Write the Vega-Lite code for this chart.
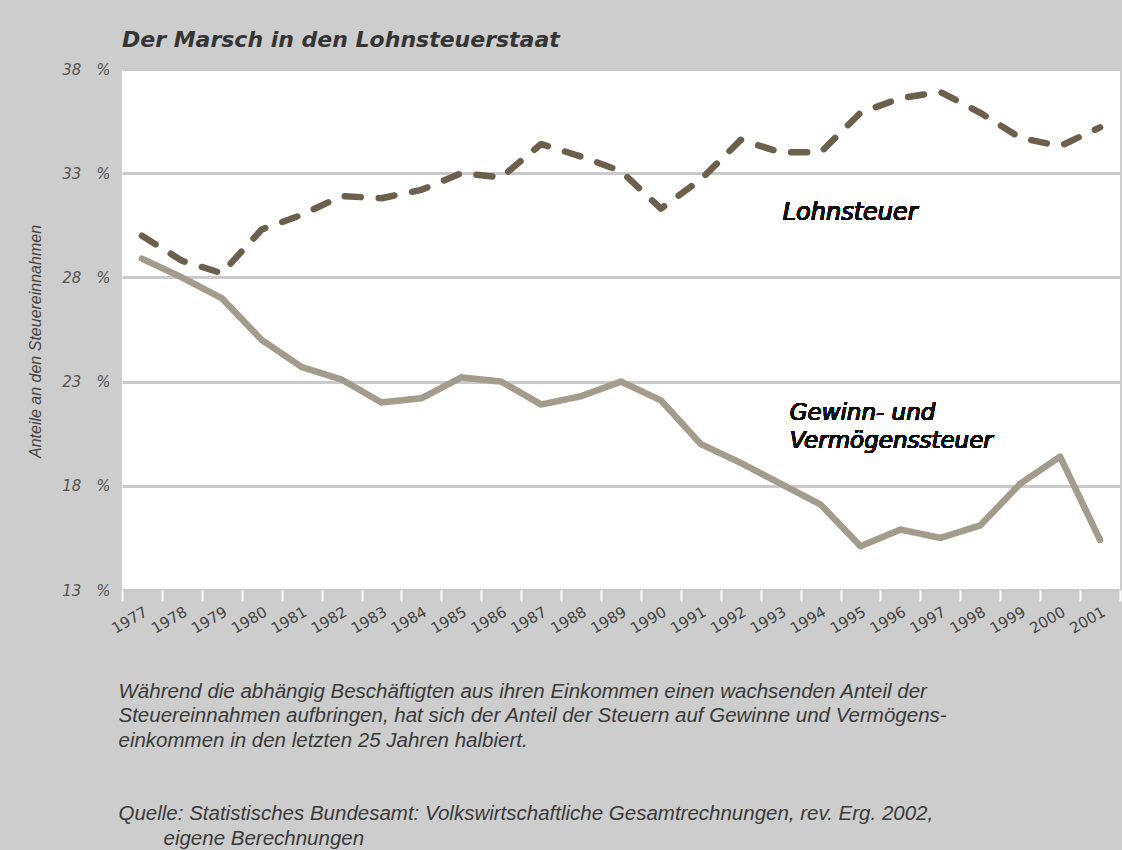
{
  "$schema": "https://vega.github.io/schema/vega-lite/v6.json",
  "autosize": {"type": "none"},
  "padding": {"left": 122, "top": 69, "right": 2, "bottom": 260},
  "width": 998,
  "height": 521,
  "background": "#cdcdcd",
  "title": {
    "text": "Der Marsch in den Lohnsteuerstaat",
    "anchor": "start",
    "frame": "group",
    "font": "DejaVu Sans",
    "fontSize": 22,
    "fontWeight": "bold",
    "fontStyle": "italic",
    "color": "#353535",
    "offset": 10
  },
  "config": {
    "view": {"fill": "white", "stroke": null}
  },
  "data": {
    "values": [
      {"year": "1977", "series": "Lohnsteuer", "value": 30.0},
      {"year": "1978", "series": "Lohnsteuer", "value": 28.8},
      {"year": "1979", "series": "Lohnsteuer", "value": 28.2},
      {"year": "1980", "series": "Lohnsteuer", "value": 30.3},
      {"year": "1981", "series": "Lohnsteuer", "value": 31.0},
      {"year": "1982", "series": "Lohnsteuer", "value": 31.9},
      {"year": "1983", "series": "Lohnsteuer", "value": 31.8},
      {"year": "1984", "series": "Lohnsteuer", "value": 32.2},
      {"year": "1985", "series": "Lohnsteuer", "value": 33.0},
      {"year": "1986", "series": "Lohnsteuer", "value": 32.8},
      {"year": "1987", "series": "Lohnsteuer", "value": 34.4},
      {"year": "1988", "series": "Lohnsteuer", "value": 33.8},
      {"year": "1989", "series": "Lohnsteuer", "value": 33.1},
      {"year": "1990", "series": "Lohnsteuer", "value": 31.3},
      {"year": "1991", "series": "Lohnsteuer", "value": 32.7},
      {"year": "1992", "series": "Lohnsteuer", "value": 34.6},
      {"year": "1993", "series": "Lohnsteuer", "value": 34.0},
      {"year": "1994", "series": "Lohnsteuer", "value": 34.0},
      {"year": "1995", "series": "Lohnsteuer", "value": 35.9},
      {"year": "1996", "series": "Lohnsteuer", "value": 36.6},
      {"year": "1997", "series": "Lohnsteuer", "value": 36.9},
      {"year": "1998", "series": "Lohnsteuer", "value": 35.9},
      {"year": "1999", "series": "Lohnsteuer", "value": 34.7},
      {"year": "2000", "series": "Lohnsteuer", "value": 34.3},
      {"year": "2001", "series": "Lohnsteuer", "value": 35.2},
      {"year": "1977", "series": "Gewinn", "value": 28.9},
      {"year": "1978", "series": "Gewinn", "value": 28.0},
      {"year": "1979", "series": "Gewinn", "value": 27.0},
      {"year": "1980", "series": "Gewinn", "value": 25.0},
      {"year": "1981", "series": "Gewinn", "value": 23.7},
      {"year": "1982", "series": "Gewinn", "value": 23.1},
      {"year": "1983", "series": "Gewinn", "value": 22.0},
      {"year": "1984", "series": "Gewinn", "value": 22.2},
      {"year": "1985", "series": "Gewinn", "value": 23.2},
      {"year": "1986", "series": "Gewinn", "value": 23.0},
      {"year": "1987", "series": "Gewinn", "value": 21.9},
      {"year": "1988", "series": "Gewinn", "value": 22.3},
      {"year": "1989", "series": "Gewinn", "value": 23.0},
      {"year": "1990", "series": "Gewinn", "value": 22.1},
      {"year": "1991", "series": "Gewinn", "value": 20.0},
      {"year": "1992", "series": "Gewinn", "value": 19.1},
      {"year": "1993", "series": "Gewinn", "value": 18.1},
      {"year": "1994", "series": "Gewinn", "value": 17.1},
      {"year": "1995", "series": "Gewinn", "value": 15.1},
      {"year": "1996", "series": "Gewinn", "value": 15.9},
      {"year": "1997", "series": "Gewinn", "value": 15.5},
      {"year": "1998", "series": "Gewinn", "value": 16.1},
      {"year": "1999", "series": "Gewinn", "value": 18.1},
      {"year": "2000", "series": "Gewinn", "value": 19.4},
      {"year": "2001", "series": "Gewinn", "value": 15.4}
    ]
  },
  "layer": [
    {
      "mark": {"type": "line", "strokeWidth": 6.5, "strokeCap": "round", "strokeJoin": "round"},
      "encoding": {
        "x": {
          "field": "year",
          "type": "ordinal",
          "scale": {"type": "band", "paddingInner": 0, "paddingOuter": 0},
          "axis": {
            "tickBand": "extent",
            "domain": false,
            "grid": false,
            "ticks": true,
            "tickColor": "white",
            "tickWidth": 2,
            "tickSize": 11,
            "labelAngle": -30,
            "labelFont": "DejaVu Sans",
            "labelFontSize": 15,
            "labelColor": "#444444",
            "labelPadding": 3,
            "title": [
              "Während die abhängig Beschäftigten aus ihren Einkommen einen wachsenden Anteil der",
              "Steuereinnahmen aufbringen, hat sich der Anteil der Steuern auf Gewinne und Vermögens-",
              "einkommen in den letzten 25 Jahren halbiert.",
              "\u2800",
              "\u2800",
              "Quelle: Statistisches Bundesamt: Volkswirtschaftliche Gesamtrechnungen, rev. Erg. 2002,",
              "\u2800\u2800\u2800eigene Berechnungen"
            ],
            "titleFont": "Liberation Sans",
            "titleFontSize": 20.5,
            "titleFontStyle": "italic",
            "titleFontWeight": "normal",
            "titleColor": "#3a3a3a",
            "titleAnchor": "start",
            "titleAlign": "left",
            "titleBaseline": "alphabetic",
            "titleX": -4,
            "titleY": 107,
            "titleLineHeight": 24.5
          }
        },
        "y": {
          "field": "value",
          "type": "quantitative",
          "scale": {"domain": [13, 38], "nice": false, "zero": false},
          "axis": {
            "values": [13, 18, 23, 28, 33, 38],
            "labelExpr": "datum.value + '\u2003%'",
            "domain": false,
            "ticks": false,
            "grid": true,
            "gridColor": "#c9c9c9",
            "gridWidth": 3,
            "labelFont": "DejaVu Sans",
            "labelFontStyle": "italic",
            "labelFontSize": 15,
            "labelColor": "#555555",
            "labelPadding": 12,
            "title": "Anteile an den Steuereinnahmen",
            "titleFont": "Liberation Sans",
            "titleFontSize": 16,
            "titleFontStyle": "italic",
            "titleFontWeight": "normal",
            "titleColor": "#444444",
            "titleAngle": -90,
            "titleAlign": "center",
            "titleBaseline": "middle",
            "titleX": -87,
            "titleY": 272
          }
        },
        "color": {
          "field": "series",
          "type": "nominal",
          "scale": {"domain": ["Lohnsteuer", "Gewinn"], "range": ["#6c604d", "#a39b8c"]},
          "legend": null
        },
        "strokeDash": {
          "field": "series",
          "type": "nominal",
          "scale": {"domain": ["Lohnsteuer", "Gewinn"], "range": [[16, 18], [1, 0]]},
          "legend": null
        }
      }
    },
    {
      "mark": {"type": "text", "text": "Lohnsteuer", "align": "left", "baseline": "middle", "dx": 2, "font": "DejaVu Sans", "fontSize": 24, "fontStyle": "italic", "color": "#111111"},
      "encoding": {"x": {"datum": "1993"}, "y": {"datum": 31.1}}
    },
    {
      "mark": {"type": "text", "text": ["Gewinn- und", "Vermögenssteuer"], "align": "left", "baseline": "middle", "dx": 9, "lineHeight": 28, "font": "DejaVu Sans", "fontSize": 23, "fontStyle": "italic", "color": "#111111"},
      "encoding": {"x": {"datum": "1993"}, "y": {"datum": 21.5}}
    }
  ]
}
